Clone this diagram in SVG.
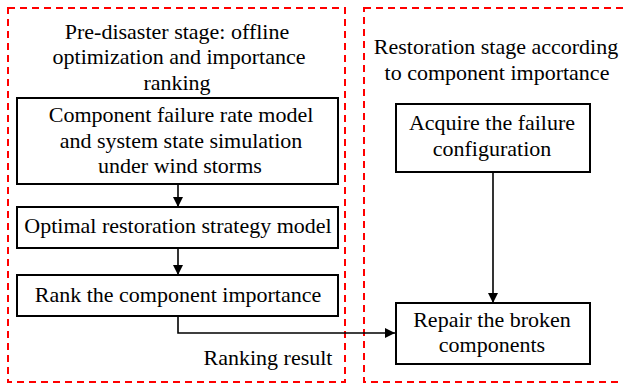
<svg xmlns="http://www.w3.org/2000/svg" width="623" height="387" viewBox="0 0 623 387" font-family="'Liberation Serif', 'Times New Roman', serif">
  <style>
    text { font-family: 'Liberation Serif', 'Times New Roman', serif; font-size: 22px; fill: #000; text-anchor: middle; }
    .stage { fill: none; stroke: #ff0000; stroke-width: 2; stroke-dasharray: 7 5; }
    .box { fill: #fff; stroke: #000; stroke-width: 2; }
    .link { fill: none; stroke: #000; stroke-width: 1.6; }
  </style>
  <defs>
    <marker id="arrow" viewBox="0 0 10 10" refX="10" refY="5" markerWidth="10" markerHeight="10" markerUnits="userSpaceOnUse" orient="auto">
      <path d="M0,0 L10,5 L0,10 z" fill="#000"/>
    </marker>
  </defs>

  <!-- stage frames -->
  <g id="stage-pre">
    <rect class="stage" x="8" y="8" width="337" height="374"/>
    <text x="177" y="39">Pre-disaster stage: offline</text>
    <text x="179" y="64">optimization and importance</text>
    <text x="177" y="90">ranking</text>
  </g>
  <g id="stage-restore">
    <rect class="stage" x="364" y="8" width="270" height="374"/>
    <text x="496" y="54">Restoration stage according</text>
    <text x="497" y="80">to component importance</text>
  </g>

  <!-- connectors -->
  <g id="connectors">
    <path class="link" d="M178,184 V207" marker-end="url(#arrow)"/>
    <path class="link" d="M178,248 V275" marker-end="url(#arrow)"/>
    <path class="link" d="M178,316 V333 H395" marker-end="url(#arrow)"/>
    <path class="link" d="M493,172 V303" marker-end="url(#arrow)"/>
    <text x="268" y="365">Ranking result</text>
  </g>

  <!-- process nodes -->
  <g id="failure-model">
    <rect class="box" x="17" y="98" width="321" height="86"/>
    <text x="181" y="122">Component failure rate model</text>
    <text x="181" y="148">and system state simulation</text>
    <text x="180" y="173">under wind storms</text>
  </g>
  <g id="restoration-model">
    <rect class="box" x="17" y="207" width="321" height="41"/>
    <text x="178" y="233">Optimal restoration strategy model</text>
  </g>
  <g id="rank-importance">
    <rect class="box" x="17" y="275" width="321" height="41"/>
    <text x="178" y="302">Rank the component importance</text>
  </g>
  <g id="acquire-failure">
    <rect class="box" x="396" y="104" width="194" height="68"/>
    <text x="492" y="130">Acquire the failure</text>
    <text x="492" y="156">configuration</text>
  </g>
  <g id="repair-components">
    <rect class="box" x="396" y="303" width="194" height="61"/>
    <text x="492" y="327">Repair the broken</text>
    <text x="492" y="352">components</text>
  </g>
</svg>
